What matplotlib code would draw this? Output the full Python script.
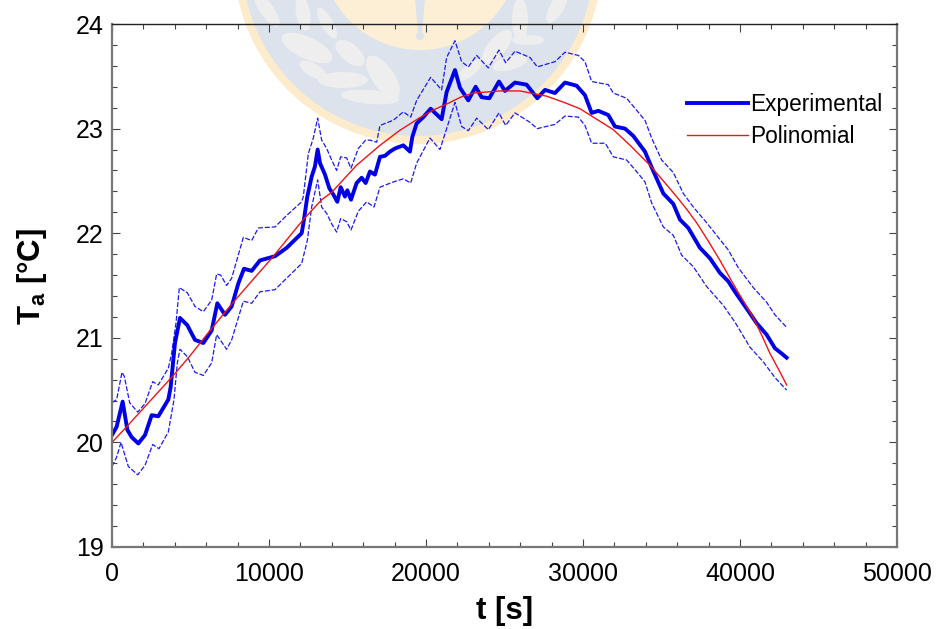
import numpy as np
import matplotlib
matplotlib.use('Agg')
import matplotlib.pyplot as plt
from matplotlib.patches import Circle, Ellipse, Polygon
from matplotlib.ticker import MultipleLocator

plt.rcParams['font.family'] = ['Liberation Sans', 'DejaVu Sans']
plt.rcParams['mathtext.fontset'] = 'custom'
plt.rcParams['mathtext.bf'] = 'Liberation Sans:bold'

# values
t_exp = [0, 297, 679, 977, 1252, 1677, 2102, 2527, 2951, 3588, 3737, 4012, 4331, 4798, 5286,
         5817, 6348, 6709, 7197, 7622, 8047, 8407, 8896, 9426, 10382, 11125, 12080, 12186,
         12441, 12717, 12929, 13099, 13247, 13566, 13842, 14097, 14352, 14564, 14840, 14989,
         15222, 15583, 15901, 16156, 16432, 16750, 17069, 17387, 17705, 18024, 18555, 18979,
         19128, 19405, 19829, 20296, 20996, 21315, 21846, 22164, 22695, 23162, 23544, 24032,
         24648, 25030, 25667, 26410, 27090, 27578, 28215, 28852, 29595, 30125, 30550, 30975,
         31611, 32036, 32673, 33204, 33947, 34372, 35115, 35751, 36176, 36707, 37450, 38087,
         38724, 39253, 39678, 40421, 41058, 41696, 42226, 42651, 42970]
T_exp = [20.07, 20.15, 20.39, 20.12, 20.05, 19.99, 20.07, 20.26, 20.25, 20.41, 20.53, 20.95,
         21.19, 21.12, 20.98, 20.95, 21.07, 21.33, 21.22, 21.30, 21.52, 21.66, 21.64, 21.74,
         21.78, 21.86, 22.0, 22.09, 22.35, 22.54, 22.64, 22.80, 22.67, 22.56, 22.43, 22.37,
         22.30, 22.44, 22.35, 22.41, 22.32, 22.48, 22.53, 22.48, 22.59, 22.56, 22.73, 22.74,
         22.78, 22.81, 22.84, 22.78, 22.92, 23.05, 23.11, 23.19, 23.09, 23.35, 23.56, 23.39,
         23.27, 23.40, 23.30, 23.29, 23.45, 23.36, 23.44, 23.42, 23.29, 23.37, 23.34, 23.44,
         23.41, 23.32, 23.15, 23.17, 23.13, 23.02, 23.0, 22.93, 22.78, 22.63, 22.38, 22.28,
         22.13, 22.05, 21.86, 21.76, 21.62, 21.54, 21.44, 21.28, 21.14, 21.03, 20.90, 20.85,
         20.81]

t_up = [0, 297, 637, 786, 1125, 1635, 2102, 2590, 2951, 3588, 3800, 4076, 4289, 4798, 5286,
        5817, 6348, 6666, 6921, 7303, 7622, 8365, 8896, 9320, 10382, 11125, 12080, 12186,
        12505, 12823, 13099, 13354, 13672, 13990, 14309, 14564, 14946, 15222, 15689, 16156,
        16432, 16857, 17069, 17918, 18555, 19023, 19405, 20296, 20996, 21315, 21846, 22270,
        22695, 23226, 23968, 24648, 25073, 25667, 26622, 27090, 28215, 28852, 29701, 30125,
        30550, 31611, 31930, 32779, 33947, 34372, 35009, 35751, 36389, 37025, 37875, 38512,
        39253, 39890, 40846, 41696, 42226, 42970]
T_up = [20.38, 20.41, 20.67, 20.63, 20.38, 20.29, 20.37, 20.58, 20.55, 20.71, 20.85, 21.14,
        21.48, 21.43, 21.30, 21.25, 21.36, 21.61, 21.60, 21.50, 21.57, 21.96, 21.93, 22.05,
        22.06, 22.17, 22.30, 22.35, 22.76, 22.91, 23.10, 22.89, 22.81, 22.70, 22.60, 22.73,
        22.72, 22.62, 22.81, 22.89, 22.89, 22.87, 23.03, 23.08, 23.16, 23.11, 23.27, 23.49,
        23.37, 23.68, 23.84, 23.64, 23.59, 23.70, 23.58, 23.75, 23.63, 23.74, 23.68, 23.59,
        23.64, 23.73, 23.70, 23.64, 23.45, 23.42, 23.34, 23.29, 23.08, 22.91, 22.70, 22.58,
        22.38, 22.25, 22.10, 21.98, 21.84, 21.67, 21.48, 21.34, 21.22, 21.10]

t_low = [0, 297, 573, 1040, 1635, 2102, 2590, 2993, 3588, 3949, 4161, 4331, 4798, 5286, 5817,
         6348, 6666, 6985, 7303, 7622, 8365, 8896, 9426, 10382, 11125, 12080, 12441, 12717,
         13099, 13354, 13672, 13990, 14309, 14564, 14946, 15222, 15689, 16219, 16687, 17069,
         17918, 18555, 19023, 19405, 20254, 20890, 21315, 21846, 22270, 22695, 23226, 23968,
         24648, 25073, 25667, 26622, 27090, 28215, 28852, 29701, 30125, 30550, 31420, 31930,
         32779, 33522, 33947, 34372, 35115, 35751, 36282, 37025, 37875, 38936, 39678, 40634,
         41484, 42226, 42970]
T_low = [19.77, 19.86, 20.0, 19.77, 19.69, 19.78, 19.98, 19.94, 20.10, 20.41, 20.76, 20.89,
         20.82, 20.67, 20.64, 20.76, 21.03, 20.96, 20.89, 20.98, 21.35, 21.33, 21.44, 21.46,
         21.57, 21.71, 21.93, 22.25, 22.51, 22.25, 22.19, 22.09, 22.01, 22.14, 22.11, 22.03,
         22.21, 22.30, 22.25, 22.44, 22.49, 22.52, 22.48, 22.67, 22.91, 22.80, 23.0, 23.25,
         23.02, 22.98, 23.10, 22.99, 23.15, 23.03, 23.15, 23.06, 23.0, 23.04, 23.12, 23.11,
         23.03, 22.86, 22.86, 22.73, 22.70, 22.57, 22.49, 22.29, 22.06, 21.98, 21.79, 21.68,
         21.49, 21.31, 21.15, 20.91, 20.77, 20.62, 20.50]

t_pol = [0, 934, 3906, 4925, 6300, 7728, 9000, 10170, 11200, 12186, 13354, 13990, 15583,
         17069, 18300, 19553, 20500, 21527, 22200, 23013, 24712, 25986, 27684, 28800, 29807,
         31930, 33000, 34263, 35963, 36600, 37237, 38000, 38724, 39250, 39784, 40300, 40846,
         41400, 41909, 42450, 42970]
T_pol = [20.0, 20.15, 20.64, 20.82, 21.08, 21.34, 21.56, 21.76, 21.95, 22.13, 22.32, 22.39,
         22.65, 22.84, 22.98, 23.10, 23.18, 23.25, 23.30, 23.34, 23.36, 23.36, 23.31, 23.25,
         23.19, 22.99, 22.84, 22.65, 22.35, 22.23, 22.10, 21.92, 21.74, 21.60, 21.46, 21.33,
         21.19, 21.02, 20.85, 20.70, 20.55]

W, H = 937, 629
fig = plt.figure(figsize=(W / 100, H / 100), dpi=100)

# faint emblem behind the chart
bg = fig.add_axes([0, 0, 1, 1], zorder=0)
bg.set_xlim(0, W)
bg.set_ylim(H, 0)
bg.axis('off')
bg.add_patch(Circle((418, -40), 184, fc='#fdeccb', ec='none'))
bg.add_patch(Circle((418, -40), 176, fc='#dce3ec', ec='none'))
bg.add_patch(Circle((420, -49), 99, fc='#fdeed6', ec='none'))
bg.add_patch(Polygon([(415, 0), (425, 0), (422, 32), (418, 32)], fc='#dce3ec', ec='none'))
bg.add_patch(Circle((420, 36), 4, fc='#dce3ec', ec='none'))
leaves = [(307, 48, 55, 22, 25), (350, 53, 35, 18, 40), (313, 70, 30, 13, 30),
          (343, 80, 50, 16, 0), (383, 77, 50, 22, 55), (370, 97, 58, 14, 5),
          (267, 10, 40, 14, 55), (303, 13, 36, 14, 80), (327, 23, 35, 12, 60),
          (520, 20, 44, 16, 90), (557, 7, 36, 14, 120), (497, 47, 42, 18, -50),
          (528, 40, 32, 10, 0), (510, 63, 36, 14, -15), (470, 70, 30, 12, -40)]
for x, y, w, h, a in leaves:
    bg.add_patch(Ellipse((x, y), w, h, angle=a, fc='#eeeeee', ec='none'))

ax = fig.add_axes([112 / W, 1 - 547 / H, 785 / W, 523 / H], zorder=1)
ax.patch.set_alpha(0)

ax.plot(t_up, T_up, color='#1a1aee', lw=0.9, ls=(0, (4, 1.5)))
ax.plot(t_low, T_low, color='#1a1aee', lw=0.9, ls=(0, (4, 1.5)))
ax.plot(t_exp, T_exp, color='#0000e6', lw=2.8, label='Experimental')
ax.plot(t_pol, T_pol, color='#f01414', lw=1.0, label='Polinomial')

ax.set_xlim(0, 50000)
ax.set_ylim(19, 24)
ax.xaxis.set_major_locator(MultipleLocator(10000))
ax.xaxis.set_minor_locator(MultipleLocator(2000))
ax.yaxis.set_major_locator(MultipleLocator(1))
ax.yaxis.set_minor_locator(MultipleLocator(0.2))
ax.tick_params(which='both', direction='in', top=True, right=True, color='#444444', width=0.8)
ax.tick_params(which='major', length=6, labelsize=18)
ax.tick_params(axis='x', which='major', pad=11)
ax.tick_params(axis='y', which='major', pad=6)
ax.tick_params(which='minor', length=3.5)
ax.spines['left'].set(color='#777777', lw=1.6)
ax.spines['bottom'].set(color='#777777', lw=1.6)
ax.spines['right'].set(color='#777777', lw=1.6)
ax.spines['top'].set(color='#222222', lw=1.0)

ax.set_xlabel('t [s]', fontsize=22.5, fontweight='bold', labelpad=7)
ax.set_ylabel(r'T$_{\mathbf{a}}$ [°C]', fontsize=22.5, fontweight='bold', labelpad=19, y=0.518)

ax.legend(frameon=False, fontsize=16.3, handlelength=2.7, handletextpad=0.08,
          labelspacing=0.38, loc='upper left', bbox_to_anchor=(0.7325, 0.8675),
          borderaxespad=0, borderpad=0)

fig.savefig('out.png', dpi=100)
